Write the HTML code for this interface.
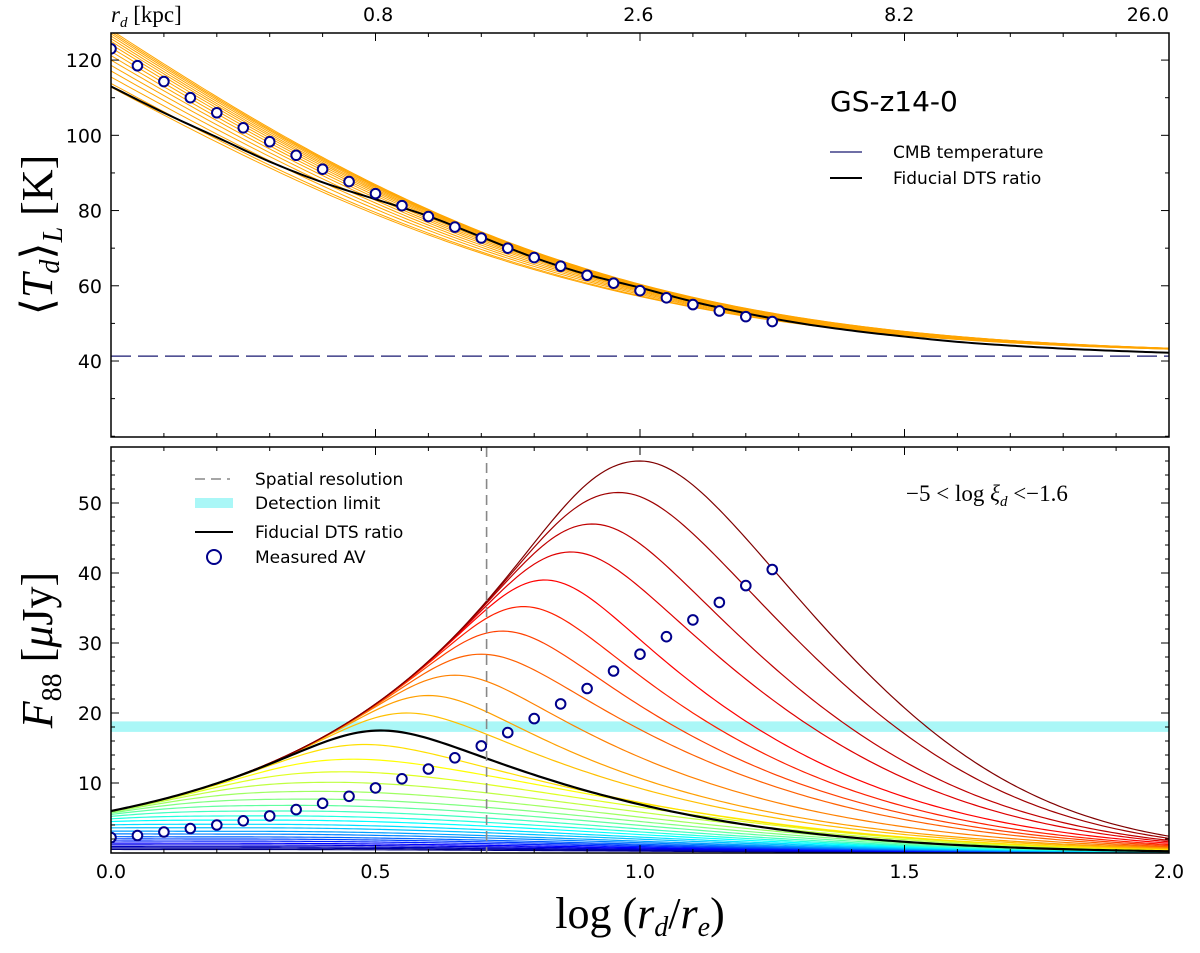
<!DOCTYPE html>
<html><head><meta charset="utf-8"><style>
body{margin:0;background:#fff;}
svg{display:block;font-family:"DejaVu Sans","Liberation Sans",sans-serif;}
.tk{font-size:19px;fill:#000;}
.serif{font-family:"Liberation Serif","DejaVu Serif",serif;}
</style></head><body>
<svg id="chart" width="1200" height="953" viewBox="0 0 1200 953">
<rect x="0" y="0" width="1200" height="953" fill="#fff"/>
<g id="top"></g>
<g id="bot"></g>
</svg>
<script>
// ===== DATA =====
const topT0 = [128,127.5,127,126.4,125.7,125,124.2,123.3,122.3,121.2,120,118.6,117.1,115.5,113.8,112.8];
const fidTx = [0,0.1,0.2,0.3,0.4,0.5,0.6,0.7,0.8,0.9,1.0,1.1,1.2,1.3,1.4,1.5,1.6,1.7,1.8,1.9,2.0];
const fidT  = [113,106,99.5,93,87.5,83,78.5,73,67.5,63,59.5,55.8,52.7,50.1,48.1,46.5,45.1,44.1,43.3,42.7,42.2];
const avX   = [0,0.05,0.1,0.15,0.2,0.25,0.3,0.35,0.4,0.45,0.5,0.55,0.6,0.65,0.7,0.75,0.8,0.85,0.9,0.95,1.0,1.05,1.1,1.15,1.2,1.25];
const avT   = [123,118.5,114.3,110,106,102,98.3,94.7,91,87.7,84.5,81.3,78.4,75.6,72.7,70,67.5,65.2,62.8,60.7,58.7,56.8,55,53.3,51.8,50.5];
const cmbT  = 41.3;
const peakF = [56,51.5,47,43,39,35.2,31.7,28.4,25.4,22.5,20.0,15.5,13.4,11.6,10.1,8.8,7.7,6.8,6.0,5.3,4.7,4.1,3.6,3.1,2.7,2.3,2.0,1.7,1.4,1.15,0.9,0.7,0.5];
const peakX = [1.0,0.96,0.91,0.87,0.82,0.78,0.74,0.70,0.65,0.60,0.56,0.48,0.46,0.44,0.42,0.40,0.38,0.36,0.34,0.32,0.30,0.28,0.27,0.26,0.25,0.24,0.23,0.22,0.21,0.2,0.2,0.2,0.2];
const endF  = [2.4,2.1,1.8,1.6,1.4,1.2,1.05,0.9,0.8,0.7,0.6,0.5,0.45,0.4,0.35,0.3,0.27,0.24,0.21,0.19,0.17,0.15,0.13,0.11,0.1,0.09,0.08,0.07,0.06,0.05,0.04,0.03,0.02];
const fidPeakF = 17.5, fidPeakX = 0.51, fidEnd = 0.25;
const avF   = [2.2,2.5,3.0,3.5,4.0,4.6,5.3,6.2,7.1,8.1,9.3,10.6,12.0,13.6,15.3,17.2,19.2,21.3,23.5,26,28.4,30.9,33.3,35.8,38.2,40.5];
const detLo = 17.3, detHi = 18.8, resX = 0.71;
const xTicks = [0,0.5,1.0,1.5,2.0];
const xTickLabels = ["0.0","0.5","1.0","1.5","2.0"];
const kpcTicks = [0.505,0.997,1.49,2.0];
const kpcLabels = ["0.8","2.6","8.2","26.0"];
const topYTicks = [40,60,80,100,120];
const botYTicks = [10,20,30,40,50];

// ===== AXES =====
const X0=111,X1=1169;
const sx=v=>X0+(X1-X0)*v/2;
const tY0=33,tY1=437,tMin=19.8,tMax=127.2;
const ty=v=>tY1-(tY1-tY0)*(v-tMin)/(tMax-tMin);
const bY0=447,bY1=853,bMin=0,bMax=58;
const by=v=>bY1-(bY1-bY0)*(v-bMin)/(bMax-bMin);
const NS="http://www.w3.org/2000/svg";
function mk(tag,at,parent){const e=document.createElementNS(NS,tag);for(const k in at)e.setAttribute(k,at[k]);parent.appendChild(e);return e;}
const gT=document.getElementById('top'), gB=document.getElementById('bot');
function pathFrom(pts){return pts.map((p,i)=>(i?'L':'M')+p[0].toFixed(2)+' '+p[1].toFixed(2)).join(' ');}
function catmull(xs,ys,n){const out=[];for(let i=0;i<xs.length-1;i++){const p0=i?i-1:i,p3=Math.min(i+2,xs.length-1);for(let k=0;k<n;k++){const t=k/n,t2=t*t,t3=t2*t;const f=(a,b,c,d)=>0.5*((2*b)+(-a+c)*t+(2*a-5*b+4*c-d)*t2+(-a+3*b-3*c+d)*t3);out.push([f(xs[p0],xs[i],xs[i+1],xs[p3]),f(ys[p0],ys[i],ys[i+1],ys[p3])]);}}out.push([xs[xs.length-1],ys[ys.length-1]]);return out;}

const defs=mk('defs',{},document.getElementById('chart'));
const c1=mk('clipPath',{id:'ct'},defs);mk('rect',{x:X0,y:tY0,width:X1-X0,height:tY1-tY0},c1);
const c2=mk('clipPath',{id:'cb'},defs);mk('rect',{x:X0,y:bY0,width:X1-X0,height:bY1-bY0},c2);

// ===== TOP PANEL =====
const tPlot=mk('g',{'clip-path':'url(#ct)'},gT);


const shapeT=x=>Math.exp(-1.057*x-0.48*x*x);
topT0.forEach((t0,i)=>{
  const pts=[];for(let k=0;k<=200;k++){const x=2*k/200;pts.push([sx(x),ty(cmbT+0.6+(t0-cmbT-0.6)*shapeT(x))]);}
  const p=mk('path',{d:pathFrom(pts),fill:'none',stroke:'#ffa500','stroke-width':1},tPlot);
  
  
});
const cmb=mk('line',{x1:X0,x2:X1,y1:ty(cmbT),y2:ty(cmbT),stroke:'#191970','stroke-width':1.3,'stroke-dasharray':'20 7'},tPlot);


const fidTop=mk('path',{d:pathFrom(catmull(fidTx.map(sx),fidT.map(ty),10)),fill:'none',stroke:'#000','stroke-width':2},tPlot);


avX.forEach((x,i)=>{
  const c=mk('circle',{cx:sx(x),cy:ty(avT[i]),r:4.8,fill:'#fff',stroke:'#00008b','stroke-width':2},tPlot);
  
  
});

// ===== BOTTOM PANEL =====
function jet(v){const r=Math.min(Math.max(Math.min(4*v-1.5,-4*v+4.5),0),1),g=Math.min(Math.max(Math.min(4*v-0.5,-4*v+3.5),0),1),b=Math.min(Math.max(Math.min(4*v+0.5,-4*v+2.5),0),1);return `rgb(${Math.round(r*255)},${Math.round(g*255)},${Math.round(b*255)})`;}
const eL=1.1*Math.LN10;
const env=x=>6*Math.pow(10,1.1*x);
function curveFn(Fp,xp,end){
  const E=env(xp),P=4;
  const s=eL/(Math.pow(E/Fp,P)-1);
  const Dp=E*Math.pow(s/eL,1/P);
  const L=2-xp;
  let q=(Math.log(Dp/end)-s*L)/(L*L);
  if(q<0)q=0;
  return x=>{const d=x-xp;const D=Dp*Math.exp(-s*d-q*d*Math.abs(d)*(d>0?1:0.3));const Ex=env(x);return Math.pow(Math.pow(Ex,-P)+Math.pow(D,-P),-1/P);};
}
const bPlot=mk('g',{'clip-path':'url(#cb)'},gB);


const band=mk('rect',{x:X0,y:by(detHi),width:X1-X0,height:by(detLo)-by(detHi),fill:'#aaf7f7'},bPlot);


const N=peakF.length;
for(let i=N-1;i>=0;i--){
  const f=curveFn(peakF[i],peakX[i],endF[i]);
  const pts=[];for(let k=0;k<=240;k++){const x=2*k/240;pts.push([sx(x),by(f(x))]);}
  const p=mk('path',{d:pathFrom(pts),fill:'none',stroke:jet(1-i/(N-1)),'stroke-width':1.2},bPlot);
  
  
}
{
  const f=curveFn(fidPeakF,fidPeakX,fidEnd);
  const pts=[];for(let k=0;k<=240;k++){const x=2*k/240;pts.push([sx(x),by(f(x))]);}
  const p=mk('path',{d:pathFrom(pts),fill:'none',stroke:'#000','stroke-width':2.2},bPlot);
  
  
}
const res=mk('line',{x1:sx(resX),x2:sx(resX),y1:bY0,y2:bY1,stroke:'#888','stroke-width':1.6,'stroke-dasharray':'10 6'},bPlot);


avX.forEach((x,i)=>{
  const c=mk('circle',{cx:sx(x),cy:by(avF[i]),r:4.8,fill:'#fff',stroke:'#00008b','stroke-width':2},bPlot);
  
  
});

// ===== FRAMES & TICKS =====
function frame(g,y0,y1,yfn,yt,minorStep,ymin,ymax,name){
  const r=mk('rect',{x:X0,y:y0,width:X1-X0,height:y1-y0,fill:'none',stroke:'#000','stroke-width':1.5},g);
  
  
  for(let k=0;k<=20;k++){const x=sx(k/10);const L=k%5===0?8:4;
    mk('line',{x1:x,x2:x,y1:y1,y2:y1-L,stroke:'#000'},g);mk('line',{x1:x,x2:x,y1:y0,y2:y0+L,stroke:'#000'},g);}
  for(let v=Math.ceil(ymin/minorStep)*minorStep;v<=ymax;v+=minorStep){const y=yfn(v);const L=(yt.includes(v))?8:4;
    mk('line',{x1:X0,x2:X0+L,y1:y,y2:y,stroke:'#000'},g);mk('line',{x1:X1,x2:X1-L,y1:y,y2:y,stroke:'#000'},g);}
  yt.forEach(v=>{const t=mk('text',{x:X0-9,y:yfn(v)+7,'text-anchor':'end',class:'tk'},g);t.textContent=v;
    
    });
}
frame(gT,tY0,tY1,ty,topYTicks,10,20,127,'temperature-axes-frame');
frame(gB,bY0,bY1,by,botYTicks,2,0,58,'flux-axes-frame');
xTicks.forEach((v,i)=>{const t=mk('text',{x:sx(v),y:878,'text-anchor':'middle',class:'tk'},gB);t.textContent=xTickLabels[i];
  
  });
kpcTicks.forEach((v,i)=>{const t=mk('text',{x:Math.min(sx(v),1178),y:21,'text-anchor':i===3?'end':'middle',class:'tk'},gT);t.textContent=kpcLabels[i];
  
  });
</script>
<svg style="position:absolute;left:0;top:0" width="1200" height="953">
<text x="111" y="22" class="serif" font-size="23"><tspan font-style="italic">r</tspan><tspan font-style="italic" font-size="15" dy="5">d</tspan><tspan dy="-5"> [kpc]</tspan></text>
<text x="830" y="111" font-size="28">GS-z14-0</text>
<line x1="830" x2="862" y1="152" y2="152" stroke="#191970" stroke-width="1.3"/>
<text x="893" y="158" font-size="17">CMB temperature</text>
<line x1="830" x2="862" y1="178" y2="178" stroke="#000" stroke-width="2"/>
<text x="893" y="184" font-size="17">Fiducial DTS ratio</text>
<line x1="195" x2="230" y1="479" y2="479" stroke="#888" stroke-width="1.6" stroke-dasharray="10 6"/>
<text x="255" y="485" font-size="17">Spatial resolution</text>
<rect x="195" y="498" width="38" height="10" fill="#aaf7f7"/>
<text x="255" y="509" font-size="17">Detection limit</text>
<line x1="195" x2="233" y1="532" y2="532" stroke="#000" stroke-width="2"/>
<text x="255" y="538" font-size="17">Fiducial DTS ratio</text>
<circle cx="214" cy="557" r="7" fill="#fff" stroke="#00008b" stroke-width="2"/>
<text x="255" y="563" font-size="17">Measured AV</text>
<text x="906" y="501" class="serif" font-size="23">−5 &lt; log <tspan font-style="italic">ξ</tspan><tspan font-style="italic" font-size="15" dy="5">d</tspan><tspan dy="-5"> &lt;−1.6</tspan></text>
<text transform="translate(52,235) rotate(-90)" text-anchor="middle" class="serif" font-size="44">⟨<tspan font-style="italic">T</tspan><tspan font-style="italic" font-size="28" dy="7">d</tspan><tspan dy="-7">⟩</tspan><tspan font-style="italic" font-size="28" dy="10">L</tspan><tspan dy="-10"> [K]</tspan></text>
<text transform="translate(52,650) rotate(-90)" text-anchor="middle" class="serif" font-size="44"><tspan font-style="italic">F</tspan><tspan font-size="28" dy="9">88</tspan><tspan dy="-9"> [</tspan><tspan font-style="italic">μ</tspan>Jy]</text>
<text x="640" y="928" text-anchor="middle" class="serif" font-size="44">log (<tspan font-style="italic">r</tspan><tspan font-style="italic" font-size="28" dy="8">d</tspan><tspan dy="-8">/</tspan><tspan font-style="italic">r</tspan><tspan font-style="italic" font-size="28" dy="8">e</tspan><tspan dy="-8">)</tspan></text>
</svg>
</body></html>
